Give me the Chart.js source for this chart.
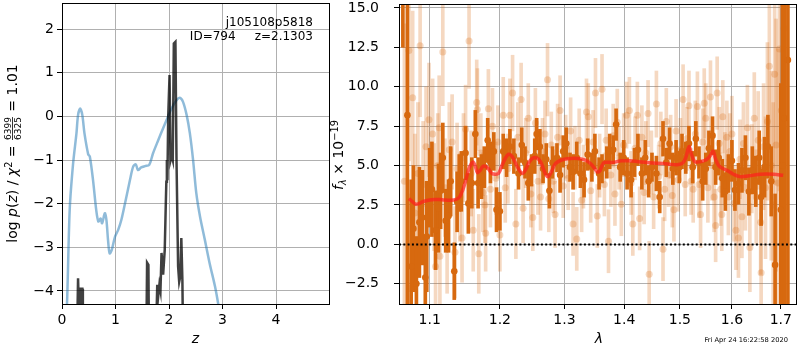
<!DOCTYPE html>
<html>
<head>
<meta charset="utf-8">
<script src="https://cdn.jsdelivr.net/npm/chart.js@4.4.0/dist/chart.umd.min.js"></script>
<style>
  html, body { margin: 0; padding: 0; background: #fff; }
  #wrap { position: relative; width: 800px; height: 350px; overflow: hidden; }
  #pz { position: absolute; left: 0; top: 0; }
  #sp { position: absolute; left: 330px; top: 0; }
</style>
</head>
<body>
<div id="wrap">
  <canvas id="pz" width="330" height="350"></canvas>
  <canvas id="sp" width="470" height="350"></canvas>
</div>
<script>
// ---- p(z) panel
const zTicks = [0, 1, 2, 3, 4];
const logpTicks = [-4, -3, -2, -1, 0, 1, 2];

// template fit p(z) (light blue)
const fitZ = [0.06, 0.094, 0.144, 0.206, 0.27, 0.30, 0.34, 0.38, 0.42, 0.49, 0.52, 0.58, 0.64, 0.68, 0.72, 0.75,
  0.80, 0.83, 0.86, 0.89, 0.93, 0.99, 1.05, 1.11, 1.19, 1.27, 1.33, 1.38, 1.42, 1.48, 1.55, 1.63, 1.70, 1.80,
  1.89, 1.98, 2.06, 2.14, 2.20, 2.26, 2.33, 2.39, 2.45, 2.51, 2.58, 2.67, 2.76, 2.86, 2.92, 3.00];
const fitLogP = [-5.0, -4.28, -2.14, -1.1, -0.39, 0.03, 0.18, 0.03, -0.39, -0.87, -0.92, -1.46, -2.15, -2.41, -2.34, -2.45,
  -2.22, -2.37, -2.83, -3.14, -3.06, -2.76, -2.6, -2.37, -1.92, -1.46, -1.15, -1.10, -1.23, -1.17, -1.14, -1.11, -0.85, -0.54,
  -0.27, -0.01, 0.21, 0.37, 0.43, 0.34, 0.03, -0.39, -1.0, -1.76, -2.3, -2.83, -3.37, -3.9, -4.3, -4.9];

// grism chi2 p(z) (dark)
const chiZ = [0.27, 0.30, 0.32, 0.34, 0.35, 0.38, 0.39, 1.57, 1.59, 1.615, 1.63, 1.74, 1.78, 1.80, 1.82, 1.84, 1.86,
  1.89, 1.92, 1.94, 1.95, 1.96, 1.97, 1.985, 2.01, 2.03, 2.05, 2.07, 2.09, 2.12, 2.14, 2.17, 2.19, 2.21, 2.23, 2.25, 2.27];
const chiLogP = [-6, -3.71, -4.6, -4.5, -3.95, -3.95, -6, -6, -3.35, -3.4, -6, -6, -3.86, -4.1, -3.86, -4.0, -3.13,
  -3.63, -3.06, -2.0, -1.5, -1.0, -1.46, 0.0, 0.95, -1.0, -0.9, -1.0, 1.67, 1.71, -1.0, -3.44, -3.79, -3.67, -2.79, -3.75, -6];

// ---- spectrum panel
const lamTicks = [1.1, 1.2, 1.3, 1.4, 1.5, 1.6, 1.7];
const fluxTicks = [-2.5, 0, 2.5, 5, 7.5, 10, 12.5, 15];

// fitted / binned spectrum (dark orange)
const specLam = [
  1.064, 1.070, 1.075, 1.078, 1.082, 1.086, 1.090, 1.094, 1.096, 1.100,
  1.103, 1.108, 1.112, 1.115, 1.118, 1.122, 1.126, 1.129, 1.134, 1.138,
  1.141, 1.144, 1.150, 1.154, 1.159, 1.164, 1.168, 1.173, 1.177, 1.182,
  1.186, 1.191, 1.195, 1.200, 1.205, 1.210, 1.215, 1.221, 1.228, 1.233,
  1.238, 1.243, 1.248, 1.253, 1.256, 1.261, 1.266, 1.271, 1.276, 1.281,
  1.288, 1.293, 1.298, 1.303, 1.309, 1.314, 1.320, 1.326, 1.332, 1.338,
  1.345, 1.350, 1.357, 1.362, 1.370, 1.375, 1.381, 1.386, 1.393, 1.399,
  1.405, 1.412, 1.418, 1.424, 1.431, 1.437, 1.443, 1.449, 1.457, 1.463,
  1.469, 1.475, 1.481, 1.487, 1.493, 1.499, 1.504, 1.511, 1.517, 1.524,
  1.530, 1.536, 1.543, 1.549, 1.555, 1.562, 1.568, 1.574, 1.581, 1.587,
  1.593, 1.600, 1.606, 1.613, 1.620, 1.627, 1.634, 1.641, 1.648, 1.655,
  1.659, 1.666, 1.673, 1.680, 1.688, 1.700, 1.704, 1.708, 1.715];
const specFlux = [
  20, 8.2, -1.4, 1.0, -2.5, 1.4, 1.7, -2.1, 0.5, 3.6,
  3.5, 0.9, 2.3, 3.4, 5.5, 1.5, 1.8, 4.0, -1.7, 2.7,
  3.9, 4.0, 5.8, 2.6, 3.9, 7.0, 3.9, 4.3, 4.9, 6.6,
  5.2, 5.9, 2.2, 2.1, 5.9, 5.5, 6.2, 5.6, 4.5, 6.3,
  5.2, 3.9, 4.7, 5.6, 7.0, 6.2, 4.8, 5.4, 3.4, 5.2,
  5.5, 4.4, 5.9, 6.4, 4.9, 4.6, 5.5, 4.5, 4.1, 5.7,
  4.9, 5.9, 4.5, 4.8, 5.2, 5.9, 6.0, 7.6, 4.9, 5.5,
  4.5, 4.1, 5.2, 6.0, 4.5, 5.5, 4.0, 4.9, 4.5, 3.0,
  6.7, 5.2, 6.4, 4.8, 5.5, 4.9, 5.9, 5.5, 6.4, 4.9,
  6.7, 5.2, 4.0, 4.8, 6.1, 6.9, 4.9, 5.5, 4.2, 3.35,
  4.5, 5.3, 3.45, 3.85, 4.7, 5.5, 3.35, 4.7, 4.0, 5.5,
  3.0, 4.9, 6.2, 4.0, -1.3, 2.2, 5, 8, 11.7];
const specErr = [
  7.5, 14, 5.5, 4.0, 3.0, 3.5, 3.0, 2.5, 3.5, 2.5,
  3.0, 2.5, 2.8, 2.4, 2.2, 2.0, 2.3, 2.2, 1.8, 1.9,
  1.8, 1.9, 1.7, 1.9, 1.6, 1.5, 1.6, 1.4, 1.3, 1.4,
  1.3, 1.2, 1.4, 1.2, 1.1, 1.2, 1.1, 1.1, 1.0, 1.1,
  1.0, 1.1, 1.0, 1.1, 1.0, 1.1, 0.9, 1.0, 1.1, 1.0,
  0.9, 1.1, 1.0, 1.0, 0.9, 1.1, 1.0, 0.9, 1.1, 1.0,
  0.9, 1.1, 1.0, 0.9, 1.0, 1.1, 0.9, 1.0, 0.9, 1.1,
  1.0, 1.1, 0.9, 1.0, 1.0, 1.1, 1.0, 0.9, 1.1, 1.0,
  1.1, 0.9, 1.0, 1.0, 1.1, 1.0, 1.1, 1.0, 1.1, 1.0,
  1.1, 1.0, 1.2, 1.0, 1.1, 1.2, 1.1, 1.1, 1.2, 1.2,
  1.2, 1.3, 1.3, 1.3, 1.4, 1.4, 1.5, 1.5, 1.6, 1.7,
  1.8, 1.9, 2.0, 2.2, 4.5, 8, 25, 25, 20];

// individual exposures (faint orange)
const allLam = [
  1.066, 1.072, 1.073, 1.077, 1.080, 1.084, 1.087, 1.091, 1.095, 1.099,
  1.104, 1.106, 1.108, 1.111, 1.113, 1.114, 1.118, 1.121, 1.124, 1.127,
  1.131, 1.135, 1.138, 1.142, 1.145, 1.147, 1.150, 1.155, 1.158, 1.161,
  1.166, 1.167, 1.169, 1.172, 1.175, 1.178, 1.179, 1.183, 1.186, 1.189,
  1.194, 1.197, 1.200, 1.205, 1.208, 1.212, 1.215, 1.219, 1.224, 1.227,
  1.232, 1.235, 1.239, 1.243, 1.247, 1.250, 1.254, 1.258, 1.262, 1.265,
  1.269, 1.273, 1.275, 1.279, 1.282, 1.285, 1.289, 1.293, 1.298, 1.302,
  1.306, 1.310, 1.314, 1.317, 1.320, 1.324, 1.328, 1.331, 1.336, 1.339,
  1.343, 1.347, 1.351, 1.354, 1.358, 1.362, 1.366, 1.369, 1.373, 1.377,
  1.381, 1.384, 1.388, 1.391, 1.395, 1.399, 1.404, 1.409, 1.412, 1.415,
  1.419, 1.423, 1.427, 1.431, 1.435, 1.438, 1.442, 1.444, 1.448, 1.452,
  1.457, 1.461, 1.465, 1.469, 1.472, 1.475, 1.479, 1.483, 1.486, 1.489,
  1.493, 1.497, 1.501, 1.506, 1.510, 1.513, 1.517, 1.521, 1.525, 1.529,
  1.533, 1.536, 1.539, 1.543, 1.546, 1.549, 1.553, 1.558, 1.561, 1.565,
  1.568, 1.571, 1.575, 1.578, 1.580, 1.582, 1.586, 1.590, 1.593, 1.596,
  1.600, 1.604, 1.608, 1.613, 1.616, 1.620, 1.623, 1.627, 1.631, 1.636,
  1.640, 1.645, 1.649, 1.653, 1.658, 1.659, 1.664, 1.668, 1.672, 1.676,
  1.680, 1.684, 1.687, 1.690, 1.694, 1.697, 1.701, 1.705, 1.707];
const allFlux = [
  4.0, 12.3, -2.8, 9.3, 2.0, 4.5, 12.6, 3.8, 6.2, 7.9,
  7.0, 3.0, -1.4, 5.0, 7.4, -0.75, 12.2, 3.6, 0.0, 6.0,
  6.5, -0.5, 4.8, 3.0, 0.4, 5.5, 7.3, 12.9, 4.5, 0.9,
  9.0, 8.55, -0.6, 5.8, 3.3, 2.5, 0.7, 8.6, 3.5, 7.5,
  4.2, 6.5, 0.6, 8.2, 3.6, 4.8, 8.2, 9.6, 1.3, 6.8,
  9.2, 2.3, 5.8, 8.0, 3.2, 1.7, 7.7, 4.0, 3.0, 5.9,
  7.0, 10.45, 2.9, 6.3, 4.0, 1.9, 6.8, 8.5, 3.7, 6.2,
  4.2, 7.2, 1.3, 5.5, 0.35, 6.6, 2.8, 4.3, 8.4, 8.1,
  3.4, 6.5, 9.6, 1.8, 5.0, 9.85, 3.8, 6.6, 0.2, 4.4,
  6.9, 3.2, 7.75, 5.5, 2.55, 6.3, 8.2, 8.5, 3.9, 1.3,
  6.1, 8.2, 1.65, 6.8, 3.3, 5.8, 8.3, -1.9, 5.2, 3.0,
  8.9, 4.3, 6.4, -0.3, 3.5, 7.8, 4.4, 6.2, 3.1, 2.2,
  7.2, 4.1, 6.0, 9.2, 3.8, 6.7, 8.8, 4.0, 3.5, 7.0,
  8.75, 3.8, 1.9, 6.5, 8.95, 8.0, 3.6, 9.35, 5.0, 3.0,
  1.2, 9.6, 6.4, 3.5, 1.9, 8.1, 4.8, 6.8, 3.0, 5.9,
  7.0, 2.6, 0.9, 0.4, 5.4, 1.75, 6.4, 3.6, 7.4, -0.2,
  4.8, 8.0, 3.0, 6.6, 1.4, -1.8, 6.2, 3.6, 7.8, 11.3,
  5.0, 2.5, 10.8, 6.3, 3.9, 12.4, 8.5, 3.1, 13.7];
const allErr = [
  10, 7, 6, 5.5, 5, 4.5, 4.5, 4, 3.8, 3.6,
  3.5, 3.4, 3.3, 3.3, 3.3, 3.2, 3.4, 3.1, 3.1, 3.0,
  3.0, 2.9, 2.9, 2.8, 2.8, 2.8, 2.8, 3.0, 2.7, 2.6,
  2.7, 2.6, 2.5, 2.5, 2.5, 2.4, 2.4, 2.5, 2.4, 2.4,
  2.3, 2.3, 2.3, 2.4, 2.2, 2.2, 2.3, 2.4, 2.2, 2.2,
  2.3, 2.2, 2.2, 2.2, 2.1, 2.1, 2.2, 2.1, 2.1, 2.1,
  2.1, 2.3, 2.1, 2.1, 2.0, 2.1, 2.1, 2.2, 2.0, 2.0,
  2.0, 2.1, 2.0, 2.0, 2.0, 2.0, 2.0, 2.0, 2.1, 2.1,
  2.0, 2.0, 2.2, 2.0, 2.0, 2.2, 2.0, 2.0, 2.0, 2.0,
  2.0, 2.0, 2.1, 2.0, 2.0, 2.0, 2.1, 2.1, 2.0, 2.0,
  2.0, 2.1, 2.0, 2.0, 2.0, 2.0, 2.1, 2.1, 2.0, 2.0,
  2.1, 2.0, 2.0, 2.0, 2.0, 2.1, 2.0, 2.0, 2.0, 2.0,
  2.0, 2.0, 2.0, 2.2, 2.0, 2.0, 2.2, 2.1, 2.1, 2.1,
  2.2, 2.1, 2.1, 2.1, 2.2, 2.2, 2.2, 2.3, 2.2, 2.2,
  2.3, 2.3, 2.3, 2.3, 2.3, 2.3, 2.3, 2.3, 2.4, 2.4,
  2.4, 2.4, 2.5, 2.5, 2.5, 2.6, 2.6, 2.7, 2.7, 2.8,
  2.8, 2.9, 3.0, 3.1, 3.3, 3.8, 4.0, 4.5, 5.0, 5.5,
  6.0, 6.5, 7.0, 8.0, 8.5, 9.0, 10, 11, 11];

// best-fit template (red)
const modelLam = [1.072, 1.077, 1.081, 1.086, 1.091, 1.100, 1.107, 1.113, 1.120, 1.127, 1.133, 1.138, 1.142, 1.146,
  1.150, 1.154, 1.158, 1.161, 1.164, 1.167, 1.171, 1.175, 1.179, 1.183, 1.188, 1.193, 1.198, 1.203, 1.208, 1.213,
  1.218, 1.223, 1.228, 1.234, 1.239, 1.244, 1.249, 1.255, 1.261, 1.266, 1.270, 1.274, 1.279, 1.285, 1.292, 1.300,
  1.310, 1.322, 1.334, 1.342, 1.349, 1.354, 1.358, 1.362, 1.366, 1.380, 1.395, 1.410, 1.425, 1.440, 1.460, 1.478,
  1.495, 1.505, 1.511, 1.517, 1.522, 1.528, 1.538, 1.549, 1.557, 1.563, 1.568, 1.574, 1.583, 1.593, 1.603, 1.616,
  1.634, 1.658, 1.685, 1.705];
const modelFlux = [2.9, 2.7, 2.55, 2.6, 2.72, 2.82, 2.85, 2.85, 2.82, 2.8, 2.82, 2.88, 3.05, 3.45,
  4.0, 4.7, 5.1, 5.22, 4.95, 4.55, 4.7, 4.95, 4.95, 4.8, 4.5, 4.45, 4.5, 5.0, 5.45, 5.72,
  5.6, 5.2, 4.8, 4.5, 4.75, 5.2, 5.45, 5.5, 5.3, 4.85, 4.45, 4.3, 4.6, 5.1, 5.3, 5.4,
  5.45, 5.45, 5.35, 5.15, 4.85, 4.6, 4.65, 5.0, 5.2, 5.2, 5.3, 5.3, 5.25, 5.2, 5.15, 5.1,
  5.05, 5.15, 5.5, 6.2, 5.7, 5.25, 5.25, 5.35, 5.6, 5.9, 5.4, 5.0, 4.8, 4.65, 4.45, 4.3,
  4.35, 4.45, 4.45, 4.38];

const LAM_MIN = 1.0589, LAM_MAX = 1.7323;

const FONT = "'DejaVu Sans', sans-serif";
const ORANGE = '#d7690f';
const ORANGE_FAINT = 'rgba(215, 105, 15, 0.26)';
const GRID = '#b0b0b0';

Chart.defaults.font.family = FONT;

const minus = v => String(v).replace('-', '\u2212');

function fixedTicks(list) {
  return scale => { scale.ticks = list.map(v => ({ value: v })); };
}

function fixSize(size) {
  return scale => {
    if (scale.isHorizontal()) scale.height = size; else scale.width = size;
    scale.paddingLeft = scale.paddingRight = scale.paddingTop = scale.paddingBottom = 0;
  };
}

function axis(extra, list, size, pad, fmt) {
  return Object.assign({
    afterBuildTicks: fixedTicks(list),
    afterFit: fixSize(size),
    ticks: { font: { size: 14 }, color: '#000', padding: pad, maxRotation: 0, autoSkip: false, callback: fmt },
    grid: { color: GRID, lineWidth: 1, tickColor: '#000', tickLength: 5, tickWidth: 1, offset: false },
    border: { display: false },
    offset: false
  }, extra);
}

// text with italic / sub / superscript pieces, centred on (cx, cy)
function fontOf(p) { return (p.it ? 'italic ' : '') + p.s + 'px ' + FONT; }
function drawRich(ctx, parts, cx, cy, rot) {
  ctx.save();
  ctx.translate(cx, cy);
  if (rot) ctx.rotate(-Math.PI / 2);
  ctx.fillStyle = '#000';
  ctx.textBaseline = 'alphabetic';
  const w = parts.map(p => {
    ctx.font = fontOf(p);
    if (p.frac) return Math.max(ctx.measureText(p.frac[0]).width, ctx.measureText(p.frac[1]).width) + 2;
    return ctx.measureText(p.t).width;
  });
  let x = -w.reduce((a, b) => a + b, 0) / 2;
  const base = 5;
  parts.forEach((p, i) => {
    ctx.font = fontOf(p);
    if (p.frac) {
      const bar = base - 4.5;
      ctx.textAlign = 'center';
      ctx.fillText(p.frac[0], x + w[i] / 2, bar - 1.5);
      ctx.fillText(p.frac[1], x + w[i] / 2, bar + 1.5 + p.s * 0.73);
      ctx.fillRect(x + 1, bar - 0.4, w[i] - 2, 0.8);
    } else {
      ctx.textAlign = 'left';
      ctx.fillText(p.t, x, base + (p.dy || 0));
    }
    x += w[i];
  });
  ctx.restore();
}

function panelPlugin(drawText) {
  return {
    id: 'panel',
    afterDraw(chart) {
      const a = chart.chartArea, ctx = chart.ctx;
      ctx.save();
      ctx.strokeStyle = '#000';
      ctx.lineWidth = 1;
      ctx.strokeRect(Math.round(a.left) + 0.5, Math.round(a.top) + 0.5,
        Math.round(a.right - a.left), Math.round(a.bottom - a.top));
      ctx.restore();
      drawText(chart.ctx, a);
    }
  };
}

const common = {
  responsive: false,
  animation: false,
  events: [],
  devicePixelRatio: 1,
  plugins: { legend: { display: false }, tooltip: { enabled: false } }
};

// ---------- left: p(z)
new Chart(document.getElementById('pz'), {
  type: 'scatter',
  data: {
    datasets: [
      {
        data: chiZ.map((z, i) => ({ x: z, y: chiLogP[i] })),
        showLine: true, borderColor: 'rgba(0,0,0,0.75)', borderWidth: 2.5, pointRadius: 0, tension: 0, clip: 0
      },
      {
        data: fitZ.map((z, i) => ({ x: z, y: fitLogP[i] })),
        showLine: true, borderColor: 'rgba(31,119,180,0.5)', borderWidth: 2.5, pointRadius: 0, tension: 0.3, clip: 0
      }
    ]
  },
  options: Object.assign({}, common, {
    layout: { padding: { left: 0, right: 1, top: 3, bottom: 0 } },
    scales: {
      x: axis({ type: 'linear', min: 0, max: 4.99 }, zTicks, 46, 3, v => String(v)),
      y: axis({ type: 'linear', min: -4.3, max: 2.6 }, logpTicks, 62, 3, v => minus(v))
    }
  }),
  plugins: [panelPlugin((ctx, a) => {
    ctx.save();
    ctx.fillStyle = '#000';
    ctx.font = '12px ' + FONT;
    ctx.textAlign = 'right';
    ctx.textBaseline = 'alphabetic';
    ctx.fillText('j105108p5818', 313, 26);
    ctx.fillText('ID=794     z=2.1303', 313, 40);
    ctx.restore();
    drawRich(ctx, [{ t: 'z', s: 14, it: 1 }], 195.5, 338, false);
    drawRich(ctx, [
      { t: 'log ', s: 14 }, { t: 'p', s: 14, it: 1 }, { t: '(', s: 14 }, { t: 'z', s: 14, it: 1 },
      { t: ') / ', s: 14 }, { t: '\u03c7', s: 14, it: 1 }, { t: '2', s: 9.8, dy: -5.5 },
      { t: ' = ', s: 14 }, { frac: ['6399', '6325'], s: 9 }, { t: ' = 1.01', s: 14 }
    ], 12, 153.5, true);
  })]
});

// ---------- right: spectrum
const errBars = (lam, flux, err) => lam.map((l, i) => ({ x: l, y: [flux[i] - err[i], flux[i] + err[i]] }));
const pts = (lam, flux) => lam.map((l, i) => ({ x: l, y: flux[i] }));

new Chart(document.getElementById('sp'), {
  type: 'scatter',
  data: {
    datasets: [
      {
        data: [{ x: LAM_MIN, y: 0 }, { x: LAM_MAX, y: 0 }],
        showLine: true, borderColor: '#000', borderWidth: 2, borderDash: [2, 2.3], pointRadius: 0, clip: 0
      },
      {
        data: pts(modelLam, modelFlux),
        showLine: true, borderColor: 'rgba(255,30,30,0.7)', borderWidth: 3.5, pointRadius: 0, tension: 0.35, clip: 0
      },
      {
        data: pts(specLam, specFlux),
        pointRadius: 3.3, pointBackgroundColor: ORANGE, pointBorderWidth: 0, clip: 0
      },
      {
        type: 'bar', data: errBars(specLam, specFlux, specErr),
        backgroundColor: ORANGE, barThickness: 3, grouped: false, borderWidth: 0, clip: 0
      },
      {
        data: pts(allLam, allFlux),
        pointRadius: 3.5, pointBackgroundColor: ORANGE_FAINT, pointBorderWidth: 0, clip: 0
      },
      {
        type: 'bar', data: errBars(allLam, allFlux, allErr),
        backgroundColor: ORANGE_FAINT, barThickness: 3, grouped: false, borderWidth: 0, clip: 0
      }
    ]
  },
  options: Object.assign({}, common, {
    layout: { padding: { left: 0, right: 1, top: 3, bottom: 0 } },
    scales: {
      x: axis({ type: 'logarithmic', min: LAM_MIN, max: LAM_MAX }, lamTicks, 46, 3, v => Number(v).toFixed(1)),
      y: axis({ type: 'linear', min: -3.78, max: 15.25 }, fluxTicks, 69, 15, v => minus(Number(v).toFixed(1)))
    }
  }),
  plugins: [panelPlugin((ctx, a) => {
    drawRich(ctx, [{ t: '\u03bb', s: 14, it: 1 }], 269, 338, false);
    drawRich(ctx, [
      { t: 'f', s: 14, it: 1 }, { t: '\u03bb', s: 9.8, it: 1, dy: 3 },
      { t: ' \u00d7 10', s: 14 }, { t: '\u221219', s: 9.8, dy: -5.5 }
    ], 8, 155, true);
    ctx.save();
    ctx.fillStyle = '#000';
    ctx.font = '6.7px ' + FONT;
    ctx.textAlign = 'right';
    ctx.textBaseline = 'alphabetic';
    ctx.fillText('Fri Apr 24 16:22:58 2020', 458, 342);
    ctx.restore();
  })]
});
</script>
</body>
</html>
